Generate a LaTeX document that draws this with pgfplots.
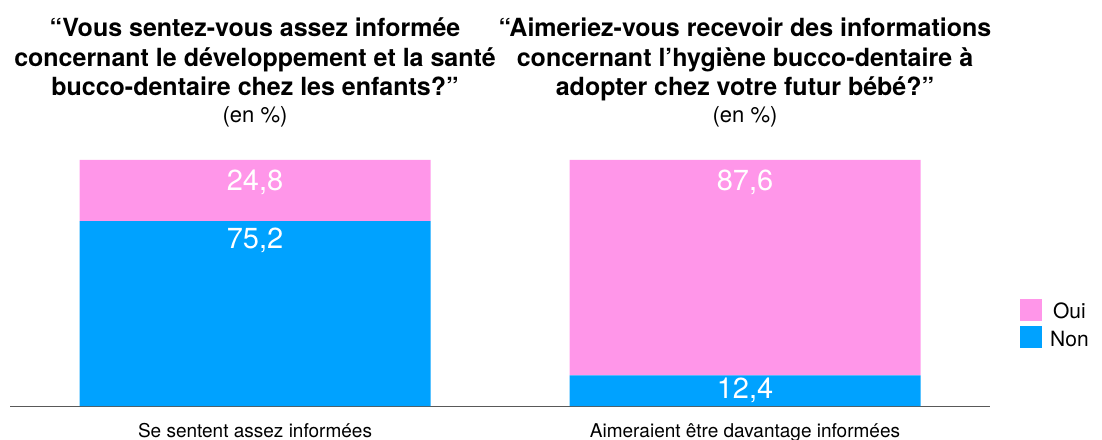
\documentclass[border=0pt]{standalone}
\usepackage{pgfplots}
\pgfplotsset{compat=1.18}
\usepackage{pgfplotstable}
\usepackage{fontspec}
\setmainfont{TeX Gyre Heros}
\definecolor{oui}{HTML}{FF96E9}
\definecolor{non}{HTML}{00A2FF}
\pgfplotstableread{
x y lab off
0 75.2 75,2 85.5
1 12.4 12,4 13.3
}\non
\pgfplotstableread{
x y lab off
0 24.8 24,8 20.5
1 87.6 87,6 97.8
}\oui
\begin{document}
\begin{tikzpicture}[x=1pt,y=1pt]
\useasboundingbox (0,0) rectangle (1102,439);
\begin{axis}[
  at={(10pt,33pt)}, anchor=south west,
  scale only axis, width=980pt, height=246pt,
  xmin=-0.5, xmax=1.5, ymin=0, ymax=100,
  ybar stacked, bar width=351pt,
  axis y line=none, axis x line*=bottom,
  axis line style={-, draw=black!65, line width=1pt},
  xtick={0,1},
  xticklabels={Se sentent assez informées, Aimeraient être davantage informées},
  major tick length=0pt,
  xticklabel style={font=\fontsize{19}{21}\selectfont, inner sep=0pt, yshift=-17pt},
  clip=false,
  reverse legend,
  legend style={at={(1,0.333)}, anchor=west, xshift=30pt, draw=none, fill=none,
    font=\fontsize{21}{23}\selectfont, row sep=4pt, inner sep=0pt},
  nodes near coords,
  point meta=explicit symbolic,
  visualization depends on={\thisrow{off} \as \myoff},
  every node near coord/.style={anchor=north, inner sep=0pt, yshift=\myoff pt,
    font=\fontsize{29}{30}\selectfont, text=white},
]
\addplot[fill=non, draw=none, legend image code/.code={\fill[non] (0pt,-9pt) rectangle (22pt,13pt); \path (28pt,0pt);}]
  table[x=x, y=y, meta=lab] {\non};
\addplot[fill=oui, draw=none, legend image code/.code={\fill[oui] (0pt,-9pt) rectangle (22pt,13pt); \path (28pt,0pt);}]
  table[x=x, y=y, meta=lab] {\oui};
\legend{Non, Oui}
\node[anchor=north, align=center, inner sep=0pt, font=\fontsize{25}{29.5}\selectfont]
  at ([yshift=142pt]axis cs:0,100)
  {\textbf{“Vous sentez-vous assez informée}\\
   \textbf{concernant le développement et la santé}\\
   \textbf{bucco-dentaire chez les enfants?”}\\[-3pt]
   \fontsize{22}{29.5}\selectfont (en \%)};
\node[anchor=north, align=center, inner sep=0pt, font=\fontsize{25}{29.5}\selectfont]
  at ([yshift=142pt]axis cs:1,100)
  {\textbf{“Aimeriez-vous recevoir des informations}\\
   \textbf{concernant l'hygiène bucco-dentaire à}\\
   \textbf{adopter chez votre futur bébé?”}\\[-3pt]
   \fontsize{22}{29.5}\selectfont (en \%)};
\end{axis}
\end{tikzpicture}
\end{document}
